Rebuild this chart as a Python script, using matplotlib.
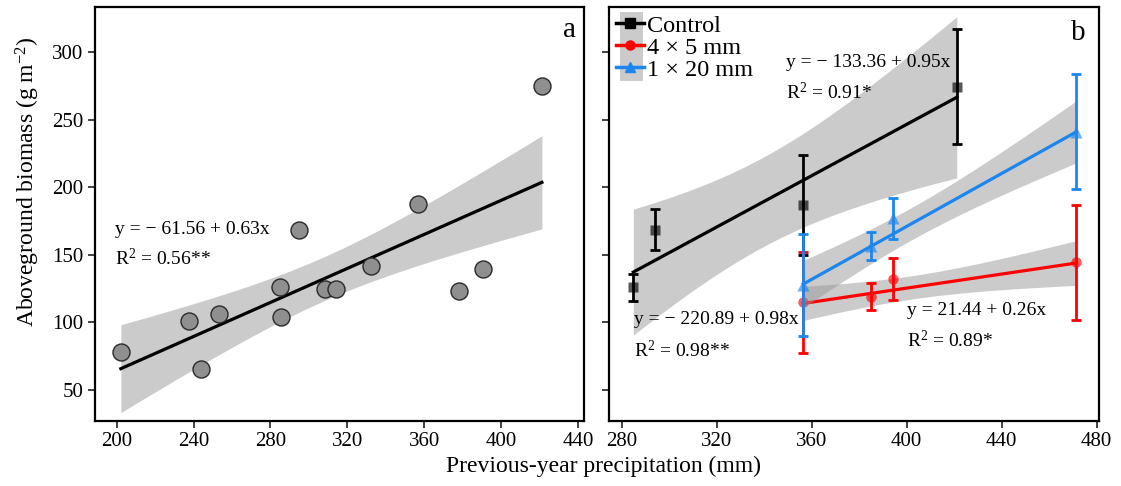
import numpy as np
import matplotlib
matplotlib.use("Agg")
import matplotlib.pyplot as plt
from matplotlib.lines import Line2D
from matplotlib.patches import Rectangle

plt.rcParams['font.family'] = ['Liberation Serif', 'DejaVu Serif']
plt.rcParams['mathtext.fontset'] = 'custom'
plt.rcParams['mathtext.rm'] = 'Liberation Serif'
plt.rcParams['mathtext.it'] = 'Liberation Serif:italic'

# ---------------- data ----------------
# panel a: all plots
a_precip = [202.2, 237.7, 244.1, 253.4, 285.2, 285.6, 294.6, 308.5, 314.2,
            332.1, 356.8, 378.0, 390.5, 421.1]
a_biomass = [78.4, 101.4, 65.6, 106.1, 126.1, 104.3, 168.1, 125.1, 125.1,
             142.1, 187.4, 123.4, 139.9, 275.3]
a_coef = (-61.56, 0.63)
a_tval = 1.782  # 90 % CI, df = 12

# panel b
b_labels = ["Control", "4 × 5 mm", "1 × 20 mm"]
b_precip = {
    "Control": [284.9, 294.1, 356.5, 421.1],
    "4 × 5 mm": [356.5, 385.1, 394.3, 471.5],
    "1 × 20 mm": [356.5, 385.1, 394.3, 471.5],
}
b_mean = {
    "Control": [126.0, 168.5, 187.0, 274.6],
    "4 × 5 mm": [114.9, 119.1, 131.9, 144.5],
    "1 × 20 mm": [127.7, 156.6, 177.1, 241.3],
}
b_err = {
    "Control": [10.2, 15.2, 37.3, 42.6],
    "4 × 5 mm": [37.4, 10.0, 15.5, 42.6],
    "1 × 20 mm": [37.6, 10.2, 15.4, 42.6],
}
b_coef = {
    "Control": (-133.36, 0.95),
    "4 × 5 mm": (21.44, 0.26),
    "1 × 20 mm": (-220.89, 0.98),
}
b_tval = 2.920  # 90 % CI, df = 2
b_colors = {"Control": "#000000", "4 × 5 mm": "#FF0000", "1 × 20 mm": "#1C86EE"}
b_markers = {"Control": "s", "4 × 5 mm": "o", "1 × 20 mm": "^"}
b_msize = {"Control": 7.5, "4 × 5 mm": 7.5, "1 × 20 mm": 8.5}

x_ticks_a = [200, 240, 280, 320, 360, 400, 440]
x_ticks_b = [280, 320, 360, 400, 440, 480]
y_ticks = [50, 100, 150, 200, 250, 300]

band_color = (0.6, 0.6, 0.6, 0.5)


def fit_band(x, y, coef, tval, n=100):
    x = np.asarray(x, float)
    y = np.asarray(y, float)
    b0, b1 = coef
    resid = y - (b0 + b1 * x)
    dof = len(x) - 2
    s = np.sqrt(np.sum(resid ** 2) / dof)
    xm = x.mean()
    sxx = np.sum((x - xm) ** 2)
    xs = np.linspace(x.min(), x.max(), n)
    yhat = b0 + b1 * xs
    se = s * np.sqrt(1.0 / len(x) + (xs - xm) ** 2 / sxx)
    return xs, yhat, yhat - tval * se, yhat + tval * se


W, H = 1121, 486
fig = plt.figure(figsize=(W / 100, H / 100), dpi=100)
ax1 = fig.add_axes([94.7 / W, 1 - 420.7 / H, (584 - 94.7) / W, 413.4 / H])
ax2 = fig.add_axes([609.3 / W, 1 - 420.7 / H, (1099.3 - 609.3) / W, 413.4 / H])

for ax in (ax1, ax2):
    ax.set_ylim(27.3, 333.3)
    ax.set_yticks(y_ticks)
    for sp in ax.spines.values():
        sp.set_linewidth(1.6)
    ax.tick_params(direction='out', length=5, width=1.3, color='#333333',
                   labelsize=15, pad=3)

ax1.set_xlim(188.6, 443.0)
ax1.set_xticks(x_ticks_a)
ax2.set_xlim(274.8, 481.1)
ax2.set_xticks(x_ticks_b)
ax2.tick_params(labelleft=False)

EQ = 14

# ---- panel a ----
xs, yh, lo, hi = fit_band(a_precip, a_biomass, a_coef, a_tval)
ax1.fill_between(xs, lo, hi, color=band_color, lw=0, zorder=1)
ax1.plot(xs, yh, color='black', lw=2.3, zorder=2)
ax1.scatter(a_precip, a_biomass, s=150, facecolor='#8f8f8f', edgecolor='#2a2a2a',
            linewidths=1.0, zorder=3)
ax1.text(199.4, 168.5, "y = − 61.56 + 0.63x", fontsize=EQ, va='center', ha='left')
ax1.text(199.4, 147.7, "R$^{2}$ = 0.56**", fontsize=EQ, va='center', ha='left')
ax1.text(0.971, 0.945, "a", transform=ax1.transAxes, fontsize=21,
         ha='center', va='center')

# ---- panel b ----
z = 1
for lab in b_labels:
    c = b_colors[lab]
    xs, yh, lo, hi = fit_band(b_precip[lab], b_mean[lab], b_coef[lab], b_tval)
    ax2.fill_between(xs, lo, hi, color=band_color, lw=0, zorder=z)
    ax2.plot(xs, yh, color=c, lw=2.3, zorder=z + 0.1)
    ax2.plot(b_precip[lab], b_mean[lab], ls='none', marker=b_markers[lab],
             ms=b_msize[lab], color=c, alpha=0.65, mec='none', zorder=z + 0.2)
    ax2.errorbar(b_precip[lab], b_mean[lab], yerr=b_err[lab], fmt='none',
                 ecolor=c, elinewidth=2.0, capsize=3.5, capthick=2.0,
                 zorder=z + 0.3)
    z += 1

ax2.text(349.2, 292.3, "y = − 133.36 + 0.95x", fontsize=EQ, va='center', ha='left', zorder=10)
ax2.text(349.2, 269.9, "R$^{2}$ = 0.91*", fontsize=EQ, va='center', ha='left', zorder=10)
ax2.text(285.2, 101.9, "y = − 220.89 + 0.98x", fontsize=EQ, va='center', ha='left', zorder=10)
ax2.text(285.2, 79.6, "R$^{2}$ = 0.98**", fontsize=EQ, va='center', ha='left', zorder=10)
ax2.text(400.1, 108.7, "y = 21.44 + 0.26x", fontsize=EQ, va='center', ha='left', zorder=10)
ax2.text(400.1, 87.0, "R$^{2}$ = 0.89*", fontsize=EQ, va='center', ha='left', zorder=10)
ax2.text(0.9565, 0.938, "b", transform=ax2.transAxes, fontsize=21,
         ha='center', va='center')

# legend
handles = [Line2D([0], [0], color=b_colors[l], lw=2.5, marker=b_markers[l],
                  ms=b_msize[l] - 1, label=l) for l in b_labels]
ax2.add_patch(Rectangle((0.0218, 0.8224), 0.0476, 0.1656, transform=ax2.transAxes,
                        facecolor=band_color, edgecolor='none', zorder=4))
leg = ax2.legend(handles=handles, loc='upper left', bbox_to_anchor=(0.014, 0.982),
                 frameon=False, fontsize=17.5, handlelength=1.15, handletextpad=0.1,
                 labelspacing=0.0, borderpad=0.0, borderaxespad=0.0)
leg.set_zorder(6)

fig.text(27.5 / W, 1 - 181.5 / H, "Aboveground biomass (g m$^{-2}$)", fontsize=17,
         rotation=90, ha='center', va='center')
fig.text(604 / W, 1 - 466 / H, "Previous-year precipitation (mm)", fontsize=17,
         ha='center', va='center')

fig.savefig("out.png", dpi=100)
